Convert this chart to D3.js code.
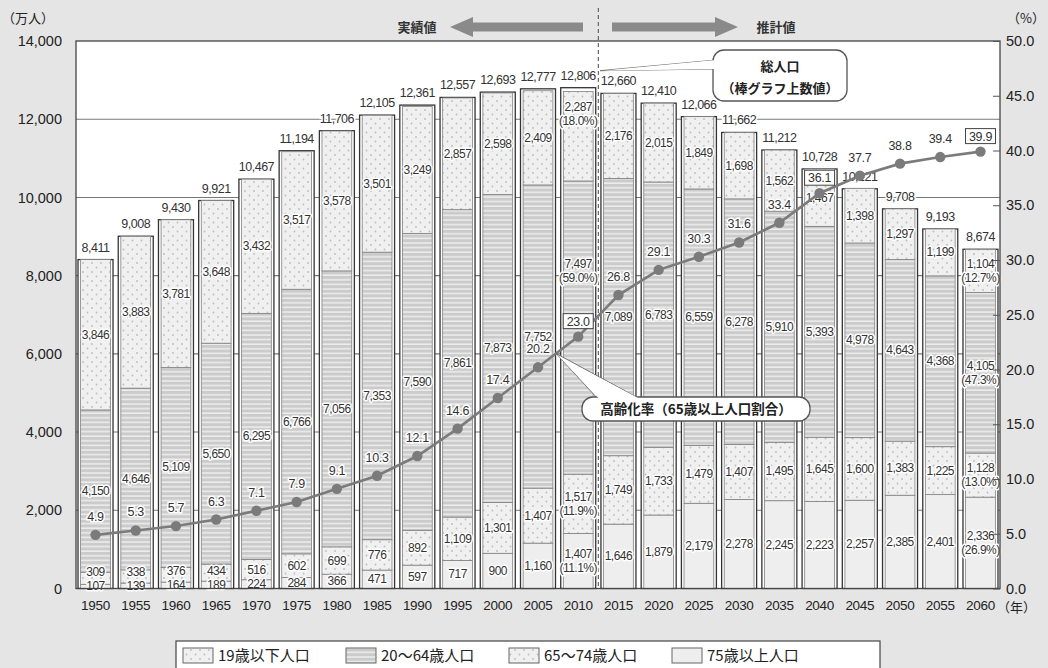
<!DOCTYPE html>
<html>
<head>
<meta charset="utf-8">
<script src="https://cdn.jsdelivr.net/npm/d3@7"></script>
<style>
  html, body { margin: 0; padding: 0; background: #e5e5e5; }
  svg { display: block; }
</style>
</head>
<body>
<svg id="chart" width="1048" height="668"></svg>
<script>
// Population by age group (10,000 persons) and share of 65+ (%)
const years = [1950,1955,1960,1965,1970,1975,1980,1985,1990,1995,2000,2005,2010,2015,2020,2025,2030,2035,2040,2045,2050,2055,2060];
const totalPop   = [8411,9008,9430,9921,10467,11194,11706,12105,12361,12557,12693,12777,12806,12660,12410,12066,11662,11212,10728,10221,9708,9193,8674];
const ageUnder19 = [3846,3883,3781,3648,3432,3517,3578,3501,3249,2857,2598,2409,2287,2176,2015,1849,1698,1562,1467,1398,1297,1199,1104];
const age20to64  = [4150,4646,5109,5650,6295,6766,7056,7353,7590,7861,7873,7752,7497,7089,6783,6559,6278,5910,5393,4978,4643,4368,4105];
const age65to74  = [309,338,376,434,516,602,699,776,892,1109,1301,1407,1517,1749,1733,1479,1407,1495,1645,1600,1383,1225,1128];
const age75plus  = [107,139,164,189,224,284,366,471,597,717,900,1160,1407,1646,1879,2179,2278,2245,2223,2257,2385,2401,2336];
const agingRate  = [4.9,5.3,5.7,6.3,7.1,7.9,9.1,10.3,12.1,14.6,17.4,20.2,23.0,26.8,29.1,30.3,31.6,33.4,36.1,37.7,38.8,39.4,39.9];

// Composition shares shown for selected years (%)
const shareYears     = [2010, 2060];
const shareUnder19   = [18.0, 12.7];
const share20to64    = [59.0, 47.3];
const share65to74    = [11.9, 13.0];
const share75plus    = [11.1, 26.9];

const boxedRateYears = [2010, 2040, 2060];
const leftTicks  = [0,2000,4000,6000,8000,10000,12000,14000];
const rightTicks = [0,5,10,15,20,25,30,35,40,45,50];
const seriesNames = ["19歳以下人口", "20～64歳人口", "65～74歳人口", "75歳以上人口"];

const svg = d3.select("#chart");
const NUM = "'Liberation Sans', Arial, sans-serif";
const JP = "'Noto Sans CJK JP', 'Noto Sans', sans-serif";

const plot = { left: 76, right: 1000, top: 41, bottom: 588.5 };

const x = d3.scaleBand().domain(years).range([plot.left, plot.right]).paddingInner(0.13).paddingOuter(0.05);
const yL = d3.scaleLinear().domain([0, 14000]).range([plot.bottom, plot.top]);
const yR = d3.scaleLinear().domain([0, 50]).range([plot.bottom, plot.top]);
const bw = x.bandwidth();
const cx = yr => x(yr) + bw / 2;

// Fill patterns
const defs = svg.append("defs");
const dots = defs.append("pattern").attr("id", "dots").attr("patternUnits", "userSpaceOnUse")
  .attr("width", 9).attr("height", 9);
dots.append("rect").attr("width", 9).attr("height", 9).attr("fill", "#f0f0f0");
dots.append("circle").attr("cx", 2).attr("cy", 2).attr("r", 0.9).attr("fill", "#bdbdbd");
dots.append("circle").attr("cx", 6.5).attr("cy", 6.5).attr("r", 0.9).attr("fill", "#bdbdbd");

const stripes = defs.append("pattern").attr("id", "stripes").attr("patternUnits", "userSpaceOnUse")
  .attr("width", 8).attr("height", 4.6);
stripes.append("rect").attr("width", 8).attr("height", 4.6).attr("fill", "#cbcbcb");
stripes.append("rect").attr("y", 3.1).attr("width", 8).attr("height", 1.4).attr("fill", "#f0f0f0");

const fills = ["url(#dots)", "url(#stripes)", "url(#dots)", "#eeeeee"];

// Plot background and grid
svg.append("rect").attr("x", plot.left).attr("y", plot.top)
  .attr("width", plot.right - plot.left).attr("height", plot.bottom - plot.top).attr("fill", "#fff");

svg.append("g").selectAll("line").data(leftTicks.filter(d => d > 0 && d < 14000)).join("line")
  .attr("x1", plot.left).attr("x2", plot.right)
  .attr("y1", d => yL(d)).attr("y2", d => yL(d))
  .attr("stroke", "#777").attr("stroke-width", 1.1);

// Separator between recorded and projected values
const sepX = (x(2010) + bw + x(2015)) / 2;
svg.append("line").attr("x1", sepX).attr("x2", sepX).attr("y1", plot.top).attr("y2", plot.bottom)
  .attr("stroke", "#fff").attr("stroke-width", 5);
svg.append("line").attr("x1", sepX).attr("x2", sepX).attr("y1", 8).attr("y2", plot.bottom)
  .attr("stroke", "#666").attr("stroke-width", 1.2).attr("stroke-dasharray", "4,3");

// Stacked bars
const rows = years.map((yr, i) => ({
  year: yr, total: totalPop[i],
  u19: ageUnder19[i], a20: age20to64[i], a65: age65to74[i], a75: age75plus[i]
}));
const keys = ["a75", "a65", "a20", "u19"];
const stack = d3.stack().keys(keys)(rows);
const fillByKey = { u19: fills[0], a20: fills[1], a65: fills[2], a75: fills[3] };

const barG = svg.append("g");
barG.selectAll("rect.outer").data(rows).join("rect").attr("class", "outer")
  .attr("x", d => x(d.year)).attr("width", bw)
  .attr("y", d => yL(d.total)).attr("height", d => yL(0) - yL(d.total))
  .attr("fill", "#fff").attr("stroke", "#333").attr("stroke-width", 1.3);

stack.forEach(layer => {
  barG.append("g").selectAll("rect").data(layer).join("rect")
    .attr("x", d => x(d.data.year) + 2.6).attr("width", bw - 5.2)
    .attr("y", d => yL(d[1])).attr("height", d => yL(d[0]) - yL(d[1]))
    .attr("fill", fillByKey[layer.key]).attr("stroke", "#808080").attr("stroke-width", 0.8);
});

// Segment value labels
const lblG = svg.append("g").attr("font-family", NUM).attr("font-size", 12)
  .attr("fill", "#333").attr("text-anchor", "middle").attr("letter-spacing", -0.5);

function label(xp, yp, lines) {
  const t = lblG.append("text").attr("x", xp).attr("y", yp)
    .attr("stroke", "#fff").attr("stroke-width", 3).attr("paint-order", "stroke")
    .attr("stroke-linejoin", "round");
  const n = lines.length;
  lines.forEach((s, k) => {
    t.append("tspan").attr("x", xp).attr("y", yp + (k - (n - 1) / 2) * 14 + 4).text(s);
  });
}

const fmt = d3.format(",");
const shareByKey = { u19: shareUnder19, a20: share20to64, a65: share65to74, a75: share75plus };

years.forEach((yr, i) => {
  const si = shareYears.indexOf(yr);
  const textFor = (key, v) => si >= 0 ? [fmt(v), "(" + shareByKey[key][si].toFixed(1) + "%)"] : [fmt(v)];
  const segY = key => {
    const layer = stack[keys.indexOf(key)][i];
    return [yL(layer[0]), yL(layer[1])];
  };
  // 75+ (bottom)
  let [b75, t75] = segY("a75");
  const y75 = Math.min((b75 + t75) / 2, plot.bottom - 3);
  // 65-74
  let [b65, t65] = segY("a65");
  const y65 = Math.min((b65 + t65) / 2, y75 - 14);
  // 20-64 and under 19; the recorded-period end bar keeps its labels clear of the rate line
  let [b20, t20] = segY("a20");
  let y20 = (b20 + t20) / 2;
  let [bu, tu] = segY("u19");
  let yu = (bu + tu) / 2;
  if (yr === 2010) { y20 = yR(agingRate[i]) - 66; yu = tu + 22; }

  label(cx(yr), y75, textFor("a75", age75plus[i]));
  label(cx(yr), y65, textFor("a65", age65to74[i]));
  label(cx(yr), y20, textFor("a20", age20to64[i]));
  label(cx(yr), yu, textFor("u19", ageUnder19[i]));
});

// Total labels on top of bars
svg.append("g").selectAll("text").data(rows).join("text")
  .attr("x", d => cx(d.year)).attr("y", d => yL(d.total) - 8)
  .attr("text-anchor", "middle").attr("font-family", NUM).attr("font-size", 12.5)
  .attr("letter-spacing", -0.5).attr("fill", "#333")
  .attr("stroke", "#fff").attr("stroke-width", 3).attr("paint-order", "stroke")
  .text(d => fmt(d.total));

// Plot frame
svg.append("rect").attr("x", plot.left).attr("y", plot.top)
  .attr("width", plot.right - plot.left).attr("height", plot.bottom - plot.top)
  .attr("fill", "none").attr("stroke", "#444").attr("stroke-width", 1.3);

// Aging rate line
const linePts = years.map((yr, i) => [cx(yr), yR(agingRate[i])]);
svg.append("path").attr("d", d3.line()(linePts))
  .attr("fill", "none").attr("stroke", "#7b7b7b").attr("stroke-width", 2.6);
svg.append("g").selectAll("circle").data(linePts).join("circle")
  .attr("cx", d => d[0]).attr("cy", d => d[1]).attr("r", 5.2).attr("fill", "#7b7b7b");

const rateG = svg.append("g").attr("font-family", NUM).attr("font-size", 12.5)
  .attr("fill", "#333").attr("text-anchor", "middle").attr("letter-spacing", -0.3);
years.forEach((yr, i) => {
  const px = cx(yr), py = yR(agingRate[i]);
  const boxed = boxedRateYears.includes(yr);
  const ty = boxed ? py - 15 : py - 18;
  if (boxed) {
    rateG.append("rect").attr("x", px - 15).attr("y", ty - 8).attr("width", 30).attr("height", 15)
      .attr("fill", "#fff").attr("stroke", "#444").attr("stroke-width", 1);
  }
  rateG.append("text").attr("x", px).attr("y", ty + 4)
    .attr("stroke", boxed ? "none" : "#fff").attr("stroke-width", 3).attr("paint-order", "stroke")
    .text(agingRate[i].toFixed(1));
});

// Axes
const axL = svg.append("g").attr("transform", `translate(${plot.left},0)`)
  .call(d3.axisLeft(yL).tickValues(leftTicks).tickSize(0).tickPadding(14).tickFormat(fmt));
axL.select(".domain").remove();
axL.selectAll("text").attr("font-family", NUM).attr("font-size", 14.5).attr("fill", "#222");

const axR = svg.append("g").attr("transform", `translate(${plot.right},0)`)
  .call(d3.axisRight(yR).tickValues(rightTicks).tickSize(-7).tickPadding(6).tickFormat(d3.format(".1f")));
axR.select(".domain").remove();
axR.selectAll("line").attr("stroke", "#555");
axR.selectAll("text").attr("font-family", NUM).attr("font-size", 14.5).attr("fill", "#222");

const axB = svg.append("g").attr("transform", `translate(0,${plot.bottom})`)
  .call(d3.axisBottom(x).tickSize(0).tickPadding(12));
axB.select(".domain").remove();
axB.selectAll("text").attr("font-family", NUM).attr("font-size", 13.5).attr("fill", "#222")
  .attr("letter-spacing", -0.3);

svg.append("text").attr("x", 2).attr("y", 23).attr("font-family", JP).attr("font-size", 13)
  .attr("fill", "#222").text("（万人）");
svg.append("text").attr("x", 1007).attr("y", 23).attr("font-family", JP).attr("font-size", 13)
  .attr("fill", "#222").text("（%）");
svg.append("text").attr("x", 997).attr("y", 612).attr("font-family", JP).attr("font-size", 13)
  .attr("fill", "#222").text("（年）");

// Recorded / projected arrows
const arrowY = 27;
svg.append("path").attr("fill", "#8a8a8a")
  .attr("d", `M450,${arrowY} L473,${arrowY - 10} L473,${arrowY - 4.5} L583,${arrowY - 4.5} L583,${arrowY + 4.5} L473,${arrowY + 4.5} L473,${arrowY + 10} Z`);
svg.append("path").attr("fill", "#8a8a8a")
  .attr("d", `M738,${arrowY} L715,${arrowY - 10} L715,${arrowY - 4.5} L612,${arrowY - 4.5} L612,${arrowY + 4.5} L715,${arrowY + 4.5} L715,${arrowY + 10} Z`);
svg.append("text").attr("x", 417).attr("y", arrowY + 5).attr("text-anchor", "middle")
  .attr("font-family", JP).attr("font-size", 13).attr("font-weight", 700).attr("fill", "#333").text("実績値");
svg.append("text").attr("x", 776).attr("y", arrowY + 5).attr("text-anchor", "middle")
  .attr("font-family", JP).attr("font-size", 13).attr("font-weight", 700).attr("fill", "#333").text("推計値");

// Callout: total population
const tipTotal = [cx(2010) + 22, yL(totalPop[12]) - 17];
svg.append("path").attr("d", `M${tipTotal[0]},${tipTotal[1]} L716,60 L716,69 Z`)
  .attr("fill", "#fff").attr("stroke", "#666").attr("stroke-width", 0.9);
svg.append("rect").attr("x", 713).attr("y", 50).attr("width", 134).attr("height", 51).attr("rx", 11)
  .attr("fill", "#fff").attr("stroke", "#555").attr("stroke-width", 1.3);
svg.append("path").attr("d", `M${tipTotal[0] + 2},${tipTotal[1]} L716,60 L716,69 Z`)
  .attr("fill", "#fff").attr("stroke", "none");
svg.append("text").attr("x", 780).attr("y", 71).attr("text-anchor", "middle").attr("font-family", JP)
  .attr("font-size", 13).attr("font-weight", 700).attr("fill", "#222").text("総人口");
svg.append("text").attr("x", 780).attr("y", 93).attr("text-anchor", "middle").attr("font-family", JP)
  .attr("font-size", 13).attr("font-weight", 700).attr("fill", "#222").text("（棒グラフ上数値）");

// Callout: aging rate
const p05 = linePts[11], p10 = linePts[12];
const tipRate = [p05[0] + (p10[0] - p05[0]) * 0.45, p05[1] + (p10[1] - p05[1]) * 0.45];
svg.append("path").attr("d", `M${tipRate[0]},${tipRate[1]} L598,399 L640,399 Z`)
  .attr("fill", "#fff").attr("stroke", "#666").attr("stroke-width", 0.9);
svg.append("rect").attr("x", 582).attr("y", 397).attr("width", 228).attr("height", 24).attr("rx", 11)
  .attr("fill", "#fff").attr("stroke", "#555").attr("stroke-width", 1.3);
svg.append("path").attr("d", `M${tipRate[0] + 3},${tipRate[1] + 3} L599,398.5 L639,398.5 Z`)
  .attr("fill", "#fff");
svg.append("text").attr("x", 696).attr("y", 414).attr("text-anchor", "middle").attr("font-family", JP)
  .attr("font-size", 13.5).attr("font-weight", 700).attr("fill", "#222").text("高齢化率（65歳以上人口割合）");

// Legend
const lg = svg.append("g");
lg.append("rect").attr("x", 176).attr("y", 641).attr("width", 704).attr("height", 32)
  .attr("fill", "#fff").attr("stroke", "#444").attr("stroke-width", 1.2);
const legX = [183, 346, 509, 672];
seriesNames.forEach((name, k) => {
  lg.append("rect").attr("x", legX[k]).attr("y", 648).attr("width", 30).attr("height", 15)
    .attr("fill", fills[k]).attr("stroke", "#666").attr("stroke-width", 1);
  lg.append("text").attr("x", legX[k] + 35).attr("y", 661).attr("font-family", JP)
    .attr("font-size", 15).attr("fill", "#222").text(name);
});
</script>
</body>
</html>
